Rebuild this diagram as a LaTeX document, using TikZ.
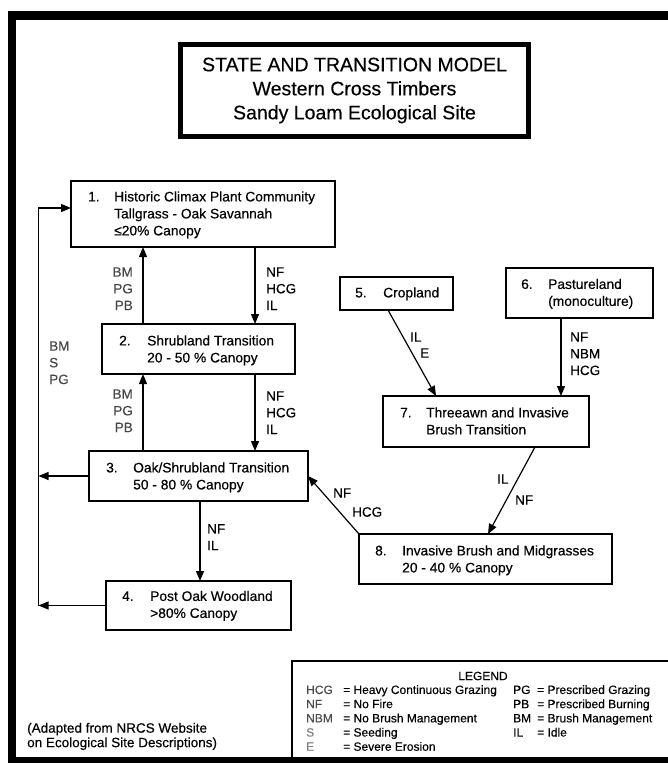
\documentclass[tikz,border=0pt]{standalone}
\usepackage{fontspec}
\setmainfont{Liberation Sans}[FakeBold=0.35]
\usetikzlibrary{arrows.meta}
\begin{document}
\begin{tikzpicture}[x=1pt,y=-1pt,
  box/.style={draw, line width=1.3pt, anchor=north west, inner sep=0pt, outer sep=0pt},
  btext/.style={anchor=west, inner sep=0pt, font=\fontsize{13.8}{17}\selectfont},
  lab/.style={inner sep=0pt, font=\fontsize{13.5}{16.7}\selectfont},
  glab/.style={lab, text=black!72},
  conn/.style={line width=1.2pt, -{Triangle[length=10pt,width=8pt]}},
  legfont/.style={inner sep=0pt, font=\fontsize{12}{14.2}\selectfont}
]
\useasboundingbox (0,0) rectangle (667,763);

% title
\node[draw, line width=5pt, anchor=north west, minimum width=348pt, minimum height=92pt,
      inner sep=0pt, outer sep=0pt, align=center, font=\fontsize{19.5}{24}\selectfont]
      (title) at (180.5,44.5) {STATE AND TRANSITION MODEL\\Western Cross Timbers\\Sandy Loam Ecological Site};

% state boxes
\node[box, minimum width=264pt, minimum height=66pt] (b1) at (71,181) {};
\node[box, minimum width=193pt, minimum height=50pt] (b2) at (102,324) {};
\node[box, minimum width=219pt, minimum height=50pt] (b3) at (89,451) {};
\node[box, minimum width=185pt, minimum height=49pt] (b4) at (106,581) {};
\node[box, minimum width=113pt, minimum height=33pt] (b5) at (340,277) {};
\node[box, minimum width=147pt, minimum height=50pt] (b6) at (506,268) {};
\node[box, minimum width=206pt, minimum height=51pt] (b7) at (383,396) {};
\node[box, minimum width=253pt, minimum height=50pt] (b8) at (359,534) {};

% box texts
\node[btext] (t1) at (88,215) {\begin{tabular}{@{}p{26pt}@{}l@{}}1.&Historic Climax Plant Community\\&Tallgrass - Oak Savannah\\&≤20\% Canopy\end{tabular}};
\node[btext] (t2) at (119,350.5) {\begin{tabular}{@{}p{28pt}@{}l@{}}2.&Shrubland Transition\\&20 - 50 \% Canopy\end{tabular}};
\node[btext] (t3) at (106,477.5) {\begin{tabular}{@{}p{27pt}@{}l@{}}3.&Oak/Shrubland Transition\\&50 - 80 \% Canopy\end{tabular}};
\node[btext] (t4) at (122,606) {\begin{tabular}{@{}p{28pt}@{}l@{}}4.&Post Oak Woodland\\&>80\% Canopy\end{tabular}};
\node[btext] (t5) at (355,294) {\begin{tabular}{@{}p{28pt}@{}l@{}}5.&Cropland\end{tabular}};
\node[btext] (t6) at (521,294) {\begin{tabular}{@{}p{27pt}@{}l@{}}6.&Pastureland\\&(monoculture)\end{tabular}};
\node[btext] (t7) at (400,422.5) {\begin{tabular}{@{}p{26pt}@{}l@{}}7.&Threeawn and Invasive\\&Brush Transition\end{tabular}};
\node[btext] (t8) at (375,560.5) {\begin{tabular}{@{}p{27pt}@{}l@{}}8.&Invasive Brush and Midgrasses\\&20 - 40 \% Canopy\end{tabular}};

% helper x positions
\coordinate (xL) at (143,0);
\coordinate (xR) at (255,0);
\coordinate (x34) at (200,0);
\coordinate (x67) at (561,0);
\coordinate (xLoop) at (38.5,0);

% connectors
\draw[conn] (b1.south -| xR) -- (b2.north -| xR);
\draw[conn] (b2.north -| xL) -- (b1.south -| xL);
\draw[conn] (b2.south -| xR) -- (b3.north -| xR);
\draw[conn] (b3.north -| xL) -- (b2.south -| xL);
\draw[conn] (b3.south -| x34) -- (b4.north -| x34);
\draw[conn] (b6.south -| x67) -- (b7.north -| x67);
\draw[conn] ([xshift=48pt]b5.south west) -- ([xshift=53pt]b7.north west);
\draw[conn] ([xshift=152pt]b7.south west) -- ([xshift=129pt]b8.north west);
\draw[conn] (b8.north west) -- (b3.east);
\draw[conn] (b3.west) -- (b3.west -| xLoop);
\draw[conn] (b4.west) -- (b4.west -| xLoop);
\draw[conn] (b4.west -| xLoop) -- ([yshift=6pt]b1.west -| xLoop) -- ([yshift=6pt]b1.west);

% connector labels
\node[glab, anchor=east] (l21) at (133,290) {\begin{tabular}{@{}r@{}}BM\\PG\\PB\end{tabular}};
\node[lab, anchor=west] (l12) at (266,290) {\begin{tabular}{@{}l@{}}NF\\HCG\\IL\end{tabular}};
\node[glab, anchor=east] (l32) at (133,412) {\begin{tabular}{@{}r@{}}BM\\PG\\PB\end{tabular}};
\node[lab, anchor=west] (l23) at (266,414) {\begin{tabular}{@{}l@{}}NF\\HCG\\IL\end{tabular}};
\node[glab, anchor=west] (lloop) at (49,364) {\begin{tabular}{@{}l@{}}BM\\S\\PG\end{tabular}};
\node[lab, anchor=west] (l34) at (207,538.5) {\begin{tabular}{@{}l@{}}NF\\IL\end{tabular}};
\node[lab, anchor=west] (l57a) at (410,337) {IL};
\node[lab, anchor=west] (l57b) at (420,353) {E};
\node[lab, anchor=west] (l67) at (570,355) {\begin{tabular}{@{}l@{}}NF\\NBM\\HCG\end{tabular}};
\node[lab, anchor=west] (l78a) at (497,479) {IL};
\node[lab, anchor=west] (l78b) at (515,500) {NF};
\node[lab, anchor=west] (l83a) at (333,493) {NF};
\node[lab, anchor=west] (l83b) at (352,512) {HCG};

% legend
\node[draw, line width=1.3pt, anchor=north west, minimum width=420pt, minimum height=120pt,
      inner sep=0pt, outer sep=0pt] (legend) at (292,661) {};
\node[legfont] (legtitle) at (483,676) {LEGEND};
\node[legfont, anchor=west] (legrows) at (306,719.5) {\begin{tabular}{@{}p{37pt}@{}p{170pt}@{}p{24pt}@{}l@{}}
\textcolor{black!70}{HCG} & = Heavy Continuous Grazing & PG & = Prescribed Grazing\\
\textcolor{black!70}{NF} & = No Fire & PB & = Prescribed Burning\\
\textcolor{black!70}{NBM} & = No Brush Management & BM & = Brush Management\\
\textcolor{black!50}{S} & = Seeding & IL & = Idle\\
\textcolor{black!50}{E} & = Severe Erosion & & \\
\end{tabular}};

% footnote
\node[anchor=west, inner sep=0pt, font=\fontsize{13.5}{14.5}\selectfont] (note) at (27,737)
  {\begin{tabular}{@{}l@{}}(Adapted from NRCS Website\\on Ecological Site Descriptions)\end{tabular}};

% outer frame
\draw[line width=8.5pt] (12,15.5) rectangle (720,761);
\end{tikzpicture}
\end{document}
